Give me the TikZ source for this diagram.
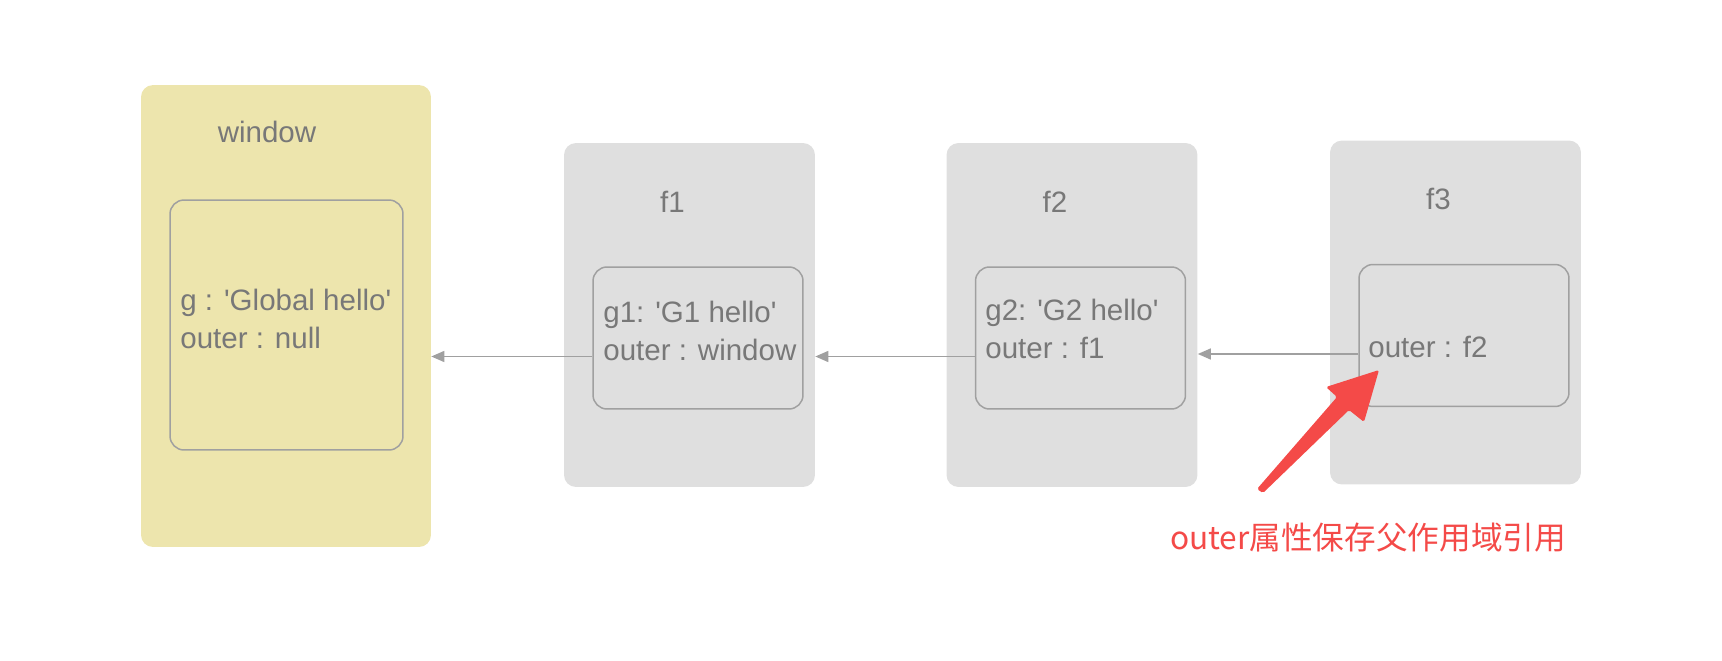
\documentclass[tikz,border=0pt]{standalone}
\usepackage{fontspec}
\setmainfont{Liberation Sans}
\newfontfamily\cjk{Noto Sans CJK SC}
\usetikzlibrary{arrows.meta,positioning}
\definecolor{winyellow}{RGB}{237,229,173}
\definecolor{envgray}{RGB}{223,223,223}
\definecolor{linegray}{RGB}{160,160,160}
\definecolor{txtgray}{RGB}{120,120,120}
\definecolor{notered}{RGB}{244,74,72}
\newcommand{\sq}{\textquotesingle}

\begin{document}
\begin{tikzpicture}[x=0.02cm, y=-0.02cm,
  env/.style={fill=envgray, rounded corners=0.24cm, minimum width=5.02cm, minimum height=6.88cm, inner sep=0pt},
  vars/.style={draw=linegray, line width=0.85pt, rounded corners=0.28cm, minimum width=4.2cm, minimum height=2.84cm, inner sep=0pt},
  ttl/.style={text=txtgray, font=\fontsize{16.8}{21.5}\selectfont},
  txt/.style={text=txtgray, font=\fontsize{16.8}{21.5}\selectfont, align=left, anchor=west, inner sep=0pt},
  ref/.style={draw=linegray, line width=0.85pt, -{Triangle[length=0.26cm, width=0.22cm]}}
]
\useasboundingbox (0,0) rectangle (1722,660);

% global scope
\node[env, fill=winyellow, minimum width=5.8cm, minimum height=9.24cm] (win) at (286,316) {};
\node[vars, minimum width=4.66cm, minimum height=5cm] (winvars) at (286.5,325) {};
\node[ttl] (wintitle) at (267,132) {window};
\node[txt] (wintext) at (180,319) {g : \sq Global hello\sq\\outer : null};

% function scopes
\foreach \i/\x/\y in {1/689.5/315,2/1072/315,3/1455.5/312.5} {
  \node[env] (f\i) at (\x,\y) {};
  \node[vars] (vars\i) at ([xshift=0.17cm, yshift=-0.46cm]f\i.center) {};
  \node[ttl] (title\i) at ([xshift=-0.34cm, yshift=-1.18cm]f\i.north) {f\i};
}

\node[txt] (text1) at (603,331) {g1: \sq G1 hello\sq\\outer : window};
\node[txt] (text2) at (985,329) {g2: \sq G2 hello\sq\\outer : f1};
\node[txt] (text3) at (1368,347) {outer : f2};

% outer references
\foreach \i/\j in {1/win,2/f1,3/f2} {
  \coordinate (out\i) at ([yshift=-0.37cm]vars\i.west);
  \draw[ref] (out\i) -- (out\i -| \j.east);
}

% callout
\fill[notered, rounded corners=1pt] (1257,489) -- (1337,397) -- (1326,387) -- (1379,370)
  -- (1364,422) -- (1349,410) -- (1263,493) -- cycle;
\node[text=notered, font=\cjk\fontsize{18}{22}\selectfont] (note) at (1368,538) {outer属性保存父作用域引用};

\end{tikzpicture}
\end{document}
